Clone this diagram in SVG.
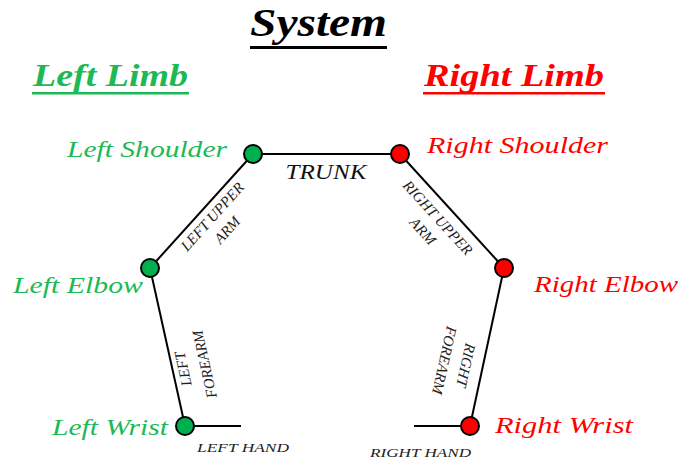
<svg xmlns="http://www.w3.org/2000/svg" width="686" height="461" viewBox="0 0 686 461">
<style>
text{font-family:"Liberation Serif","DejaVu Serif",serif;font-style:italic}
.title{font-size:40px;font-weight:bold;fill:#000}
.limb{font-size:32px;font-weight:bold}
.g{fill:#1db954}
.r{fill:#ff0000}
.lbl{font-size:24px}
.seg{font-size:15px;fill:#222}
.hand{font-size:13px;fill:#222}
.trunk{font-size:21px;fill:#111}
.line{stroke:#000;stroke-width:2;fill:none}
.ng{fill:#00b04f;stroke:#000;stroke-width:2}
.nr{fill:#ff0000;stroke:#000;stroke-width:2}
</style>
<rect width="686" height="461" fill="#fff"/>
<g id="title">
<text class="title" x="250" y="36" textLength="137" lengthAdjust="spacingAndGlyphs">System</text>
<rect x="250" y="46" width="137" height="3" fill="#000"/>
</g>
<g id="left-limb-title">
<text class="limb g" x="33" y="86" textLength="155" lengthAdjust="spacingAndGlyphs">Left Limb</text>
<rect x="32" y="92" width="157" height="2.5" fill="#1db954"/>
</g>
<g id="right-limb-title">
<text class="limb r" x="424" y="86" textLength="180" lengthAdjust="spacingAndGlyphs">Right Limb</text>
<rect x="423" y="92" width="182" height="2.5" fill="#ff0000"/>
</g>
<g id="connectors">
<line class="line" x1="253" y1="154" x2="400" y2="154"/>
<line class="line" x1="253" y1="154" x2="150" y2="268"/>
<line class="line" x1="150" y1="268" x2="185" y2="426"/>
<line class="line" x1="185" y1="426" x2="241" y2="426"/>
<line class="line" x1="400" y1="154" x2="504" y2="268"/>
<line class="line" x1="504" y1="268" x2="470" y2="426"/>
<line class="line" x1="414" y1="426" x2="470" y2="426"/>
<text class="trunk" x="326" y="179" text-anchor="middle" textLength="81" lengthAdjust="spacingAndGlyphs">TRUNK</text>
<g transform="translate(216,220) rotate(-48)">
<text class="seg" x="0" y="0" text-anchor="middle">LEFT UPPER</text>
<text class="seg" x="0" y="20" text-anchor="middle">ARM</text>
</g>
<g transform="translate(434,221) rotate(47.6)">
<text class="seg" x="0" y="0" text-anchor="middle">RIGHT UPPER</text>
<text class="seg" x="0" y="20" text-anchor="middle">ARM</text>
</g>
<g transform="translate(188,368) rotate(-102.5)">
<text class="seg" x="0" y="0" text-anchor="middle">LEFT</text>
<text class="seg" x="0" y="22" text-anchor="middle">FOREARM</text>
</g>
<g transform="translate(461,364) rotate(102.5)">
<text class="seg" x="0" y="0" text-anchor="middle">RIGHT</text>
<text class="seg" x="0" y="22" text-anchor="middle">FOREARM</text>
</g>
<text class="hand" x="197" y="452" textLength="92" lengthAdjust="spacingAndGlyphs">LEFT HAND</text>
<text class="hand" x="370" y="457" textLength="101" lengthAdjust="spacingAndGlyphs">RIGHT HAND</text>
</g>
<g id="left-shoulder">
<circle class="ng" cx="253" cy="154" r="9"/>
<text class="lbl g" x="67" y="157" textLength="160" lengthAdjust="spacingAndGlyphs">Left Shoulder</text>
</g>
<g id="right-shoulder">
<circle class="nr" cx="400" cy="154" r="9"/>
<text class="lbl r" x="427" y="153" textLength="181" lengthAdjust="spacingAndGlyphs">Right Shoulder</text>
</g>
<g id="left-elbow">
<circle class="ng" cx="150" cy="268" r="9"/>
<text class="lbl g" x="13" y="293" textLength="130" lengthAdjust="spacingAndGlyphs">Left Elbow</text>
</g>
<g id="right-elbow">
<circle class="nr" cx="504" cy="268" r="9"/>
<text class="lbl r" x="534" y="292" textLength="144" lengthAdjust="spacingAndGlyphs">Right Elbow</text>
</g>
<g id="left-wrist">
<circle class="ng" cx="185" cy="426" r="9"/>
<text class="lbl g" x="52" y="435" textLength="116" lengthAdjust="spacingAndGlyphs">Left Wrist</text>
</g>
<g id="right-wrist">
<circle class="nr" cx="470" cy="426" r="9"/>
<text class="lbl r" x="495" y="433" textLength="138" lengthAdjust="spacingAndGlyphs">Right Wrist</text>
</g>
</svg>
